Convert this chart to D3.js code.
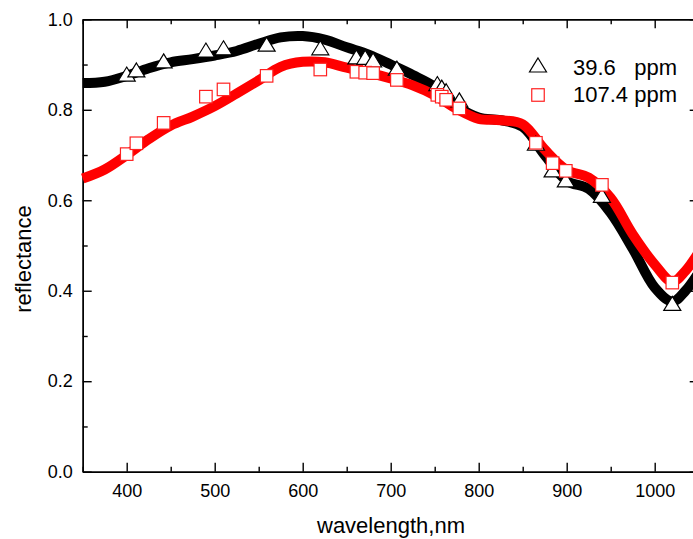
<!DOCTYPE html>
<html>
<head>
<meta charset="utf-8">
<script src="https://cdn.jsdelivr.net/npm/d3@7"></script>
<style>
  html, body { margin: 0; padding: 0; background: #fff; }
  svg { display: block; font-family: 'Liberation Sans', Arial, sans-serif; }
</style>
</head>
<body>
<div id="chart"></div>
<script>
// ── Data ───────────────────────────────────────────────────────
const wavelengths = [350, 375, 400, 425, 450, 475, 500, 525, 550, 575, 600, 625, 650, 675, 700,
                     725, 750, 775, 800, 825, 850, 875, 900, 925, 950, 975, 1000, 1020, 1035, 1050];
const refl396  = [0.859, 0.862, 0.875, 0.892, 0.905, 0.912, 0.920, 0.930, 0.946, 0.960, 0.963, 0.955, 0.938, 0.922, 0.900,
                  0.877, 0.851, 0.808, 0.783, 0.777, 0.762, 0.700, 0.643, 0.625, 0.572, 0.493, 0.407, 0.376, 0.400, 0.440];
const refl1074 = [0.648, 0.668, 0.700, 0.735, 0.765, 0.785, 0.808, 0.836, 0.865, 0.895, 0.906, 0.905, 0.893, 0.882, 0.869,
                  0.854, 0.832, 0.802, 0.780, 0.777, 0.768, 0.712, 0.667, 0.650, 0.605, 0.525, 0.458, 0.420, 0.444, 0.485];

const markerWl   = [400, 411, 442, 490, 510, 559, 620, 661, 671, 680, 707, 753, 758, 763, 778, 865, 884, 899, 940, 1020];
const marker396  = [0.879, 0.888, 0.908, 0.932, 0.937, 0.945, 0.937, 0.917, 0.916, 0.910, 0.892, 0.858, 0.850, 0.842, 0.822,
                    0.726, 0.667, 0.645, 0.611, 0.372];
const marker1074 = [0.702, 0.726, 0.771, 0.829, 0.845, 0.875, 0.889, 0.884, 0.882, 0.881, 0.866, 0.833, 0.829, 0.822, 0.803,
                    0.727, 0.682, 0.665, 0.634, 0.418];

const seriesNames = ['39.6   ppm', '107.4 ppm'];
const xMajor = [400, 500, 600, 700, 800, 900, 1000];
const xMinor = [350, 450, 550, 650, 750, 850, 950, 1050];
const yMajor = [0.0, 0.2, 0.4, 0.6, 0.8, 1.0];
const yMinor = [0.1, 0.3, 0.5, 0.7, 0.9];

// ── Layout ─────────────────────────────────────────────────────
const W = 693, H = 539;
const frame = { left: 82.7, right: 698.7, top: 19.3, bottom: 471.7 };

const svg = d3.select('#chart').append('svg')
  .attr('width', W).attr('height', H);

const x = d3.scaleLinear().domain([350, 1050]).range([frame.left, frame.right]);
const y = d3.scaleLinear().domain([0, 1]).range([frame.bottom, frame.top]);

// Axes (all ticks pointing inward)
function styleAxis(g) {
  g.selectAll('path, line').attr('stroke', '#000').attr('stroke-width', 1.4);
  g.selectAll('text').attr('fill', '#000').attr('font-size', '18px')
    .attr('font-family', "'Liberation Sans', Arial, sans-serif");
}

function drawAxis(axisFn, scale, pos, major, minor, labels, fmt) {
  const gMin = svg.append('g').attr('transform', pos)
    .call(axisFn(scale).tickValues(minor).tickSize(-5).tickSizeOuter(0).tickFormat(''));
  styleAxis(gMin);
  const gMaj = svg.append('g').attr('transform', pos)
    .call(axisFn(scale).tickValues(major).tickSize(-9).tickSizeOuter(0)
      .tickFormat(labels ? fmt : ''));
  styleAxis(gMaj);
  return gMaj;
}

const xb = drawAxis(d3.axisBottom, x, `translate(0,${frame.bottom})`, xMajor, xMinor, true, d3.format('d'));
xb.selectAll('text').attr('y', 25).attr('dy', null);
drawAxis(d3.axisTop, x, `translate(0,${frame.top})`, xMajor, xMinor, false);
const yl = drawAxis(d3.axisLeft, y, `translate(${frame.left},0)`, yMajor, yMinor, true, d3.format('.1f'));
yl.selectAll('text').attr('x', -10);
drawAxis(d3.axisRight, y, `translate(${frame.right},0)`, yMajor, yMinor, false);

// Axis titles
svg.append('text')
  .attr('x', 391).attr('y', 533)
  .attr('text-anchor', 'middle')
  .attr('font-size', '22px')
  .text('wavelength,nm');

svg.append('text')
  .attr('transform', 'translate(31,259) rotate(-90)')
  .attr('text-anchor', 'middle')
  .attr('font-size', '22px')
  .text('reflectance');

// ── Curves ─────────────────────────────────────────────────────
const line = d3.line()
  .x(d => x(d[0]))
  .y(d => y(d[1]))
  .curve(d3.curveCatmullRom.alpha(0.5));

const plot = svg.append('g');
plot.append('path')
  .datum(wavelengths.map((w, i) => [w, refl396[i]]))
  .attr('d', line)
  .attr('fill', 'none')
  .attr('stroke', '#000')
  .attr('stroke-width', 10)
  .attr('stroke-linejoin', 'round');

plot.append('path')
  .datum(wavelengths.map((w, i) => [w, refl1074[i]]))
  .attr('d', line)
  .attr('fill', 'none')
  .attr('stroke', '#ff0000')
  .attr('stroke-width', 10)
  .attr('stroke-linejoin', 'round');

// ── Markers ────────────────────────────────────────────────────
const triPath = 'M0,-7 L8.5,7 L-8.5,7 Z';
const sq = 12.5;

plot.selectAll('.tri')
  .data(markerWl.map((w, i) => [w, marker396[i]]))
  .enter().append('path')
  .attr('class', 'tri')
  .attr('transform', d => `translate(${x(d[0])},${y(d[1])})`)
  .attr('d', triPath)
  .attr('fill', '#fff')
  .attr('stroke', '#000')
  .attr('stroke-width', 1.2);

plot.selectAll('.sq')
  .data(markerWl.map((w, i) => [w, marker1074[i]]))
  .enter().append('rect')
  .attr('class', 'sq')
  .attr('x', d => x(d[0]) - sq / 2)
  .attr('y', d => y(d[1]) - sq / 2)
  .attr('width', sq).attr('height', sq)
  .attr('fill', '#fff')
  .attr('stroke', '#ff2020')
  .attr('stroke-width', 1.2);

// ── Legend ─────────────────────────────────────────────────────
const legend = svg.append('g');
legend.append('path')
  .attr('transform', 'translate(538,65)')
  .attr('d', triPath)
  .attr('fill', '#fff').attr('stroke', '#000').attr('stroke-width', 1.2);
legend.append('rect')
  .attr('x', 538 - sq / 2).attr('y', 95 - sq / 2)
  .attr('width', sq).attr('height', sq)
  .attr('fill', '#fff').attr('stroke', '#ff2020').attr('stroke-width', 1.2);
seriesNames.forEach((s, i) => {
  legend.append('text')
    .attr('x', 573).attr('y', 75 + i * 27)
    .attr('font-size', '22px')
    .style('white-space', 'pre')
    .text(s);
});
</script>
</body>
</html>
